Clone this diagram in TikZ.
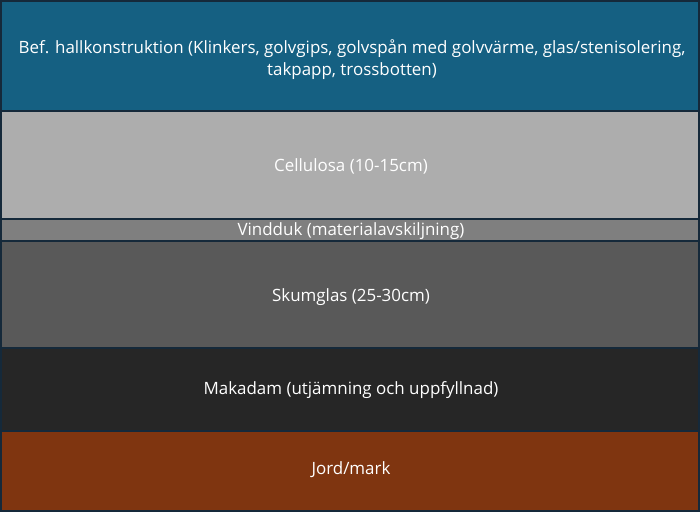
\documentclass[tikz,border=0pt]{standalone}
\usepackage{fontspec}
\setmainfont{Open Sans}
\usepackage{xcolor}
\definecolor{hallblue}{HTML}{156082}
\definecolor{cellgray}{HTML}{ADADAD}
\definecolor{dukgray}{HTML}{7F7F7F}
\definecolor{skumgray}{HTML}{595959}
\definecolor{makadark}{HTML}{262626}
\definecolor{jordbrown}{HTML}{7F3510}
\definecolor{edgeline}{HTML}{15293A}
\tikzset{
  layer/.style={draw=edgeline,line width=1.1pt},
  label/.style={text=white,font=\fontsize{12.7}{16.5}\selectfont,align=center}
}

\begin{document}
\begin{tikzpicture}[x=0.75pt, y=-0.75pt]
\useasboundingbox (0,0) rectangle (700,513);
\fill[white] (0,0) rectangle (700,513);
% layers, top to bottom
\draw[layer,fill=hallblue] (1,1) rectangle (699,111);
\draw[layer,fill=cellgray] (1,111) rectangle (699,219);
\draw[layer,fill=dukgray] (1,219) rectangle (699,241);
\draw[layer,fill=skumgray] (1,241) rectangle (699,348);
\draw[layer,fill=makadark] (1,348) rectangle (699,431);
\draw[layer,fill=jordbrown] (1,431) rectangle (699,511);
% texts
\node[label] (hall) at (352,60) {Bef. hallkonstruktion (Klinkers, golvgips, golvspån med golvvärme, glas/stenisolering,\\ takpapp, trossbotten)};
\node[label] (cellulosa) at (351,166) {Cellulosa (10-15cm)};
\node[label] (vindduk) at (351,231) {Vindduk (materialavskiljning)};
\node[label] (skumglas) at (351,297) {Skumglas (25-30cm)};
\node[label] (makadam) at (351,390) {Makadam (utjämning och uppfyllnad)};
\node[label] (jord) at (351,470) {Jord/mark};
\end{tikzpicture}
\end{document}
